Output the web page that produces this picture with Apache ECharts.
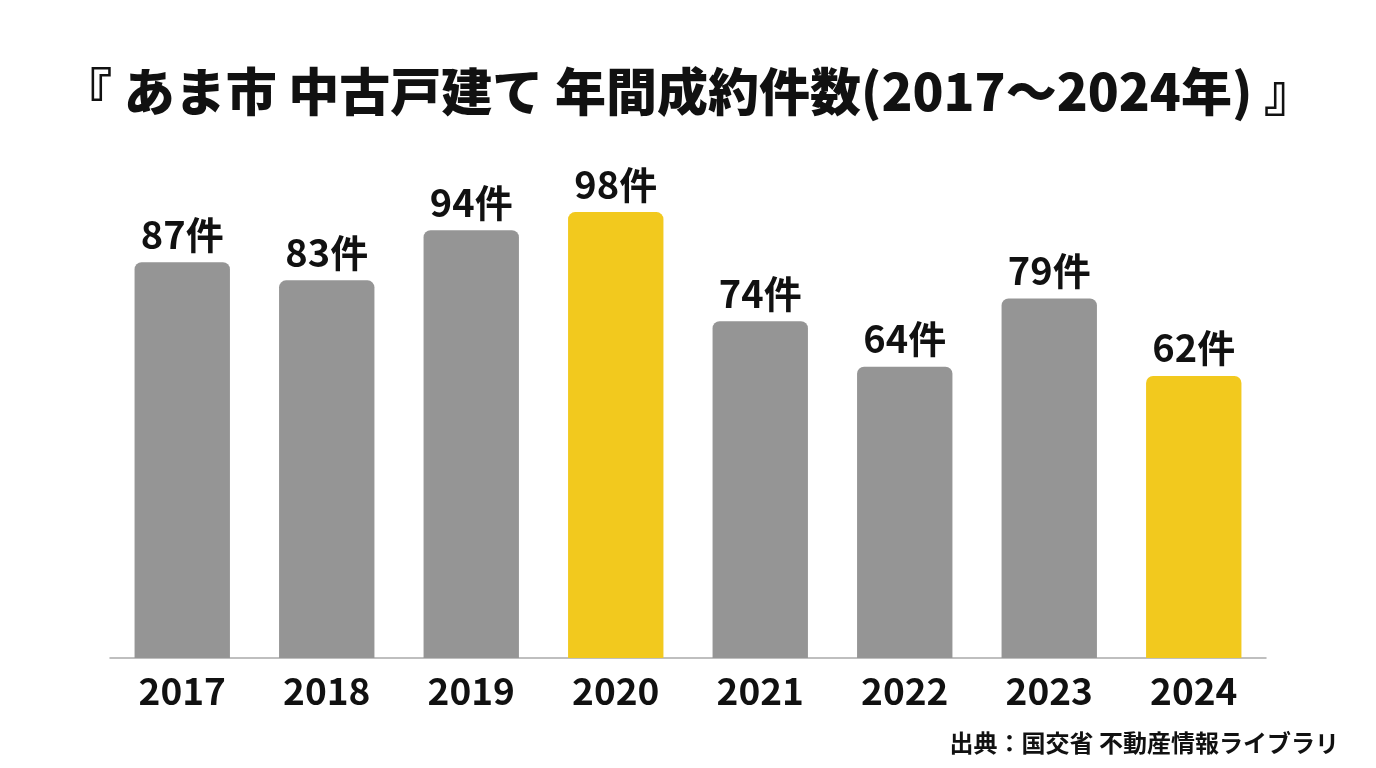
<!DOCTYPE html>
<html lang="ja">
<head>
    <meta charset="UTF-8"/>
    <title>あま市 中古戸建て 年間成約件数</title>
    <style>
        html, body { margin: 0; padding: 0; background: #fff; }
        #chart { width: 1376px; height: 768px; }
    </style>
</head>
<body>
<div id="chart"></div>
<script src="https://cdn.jsdelivr.net/npm/echarts@6/dist/echarts.min.js"></script>
<script type="text/javascript">
    var years = ['2017', '2018', '2019', '2020', '2021', '2022', '2023', '2024'];
    var counts = [87, 83, 94, 98, 74, 64, 79, 62];
    var highlight = ['2020', '2024'];   // 黄色で強調する年

    var font = '"Noto Sans CJK JP", "Noto Sans", sans-serif';

    var myChart = echarts.init(document.getElementById('chart'));
    var option = {
        backgroundColor: '#ffffff',
        textStyle: { fontFamily: font },
        title: [{
            text: '『 あま市 中古戸建て 年間成約件数(2017〜2024年) 』',
            left: 'center',
            top: 61,
            textStyle: { fontSize: 51, fontWeight: 900, color: '#111', fontFamily: font }
        }, {
            text: '出典：国交省 不動産情報ライブラリ',
            right: 32,
            top: 726,
            textStyle: { fontSize: 24, fontWeight: 'bold', color: '#111', fontFamily: font }
        }],
        grid: { left: 110, right: 110, top: 203, bottom: 110 },
        xAxis: {
            type: 'category',
            data: years,
            axisTick: { show: false },
            axisLine: { lineStyle: { color: '#aaaaaa', width: 1.5 } },
            axisLabel: { fontSize: 37, fontWeight: 'bold', color: '#111', margin: 14, fontFamily: font }
        },
        yAxis: {
            type: 'value',
            min: 0,
            max: 100,
            show: false
        },
        series: [{
            type: 'bar',
            barWidth: '66%',
            data: counts.map(function (v, i) {
                return {
                    value: v,
                    itemStyle: { color: highlight.indexOf(years[i]) >= 0 ? '#f2c91e' : '#959595' }
                };
            }),
            itemStyle: { borderRadius: [7, 7, 0, 0] },
            label: {
                show: true,
                position: 'top',
                distance: 9,
                formatter: '{c}件',
                fontSize: 38,
                fontWeight: 'bold',
                color: '#111',
                fontFamily: font
            }
        }]
    };
    myChart.setOption(option);
</script>
</body>
</html>
